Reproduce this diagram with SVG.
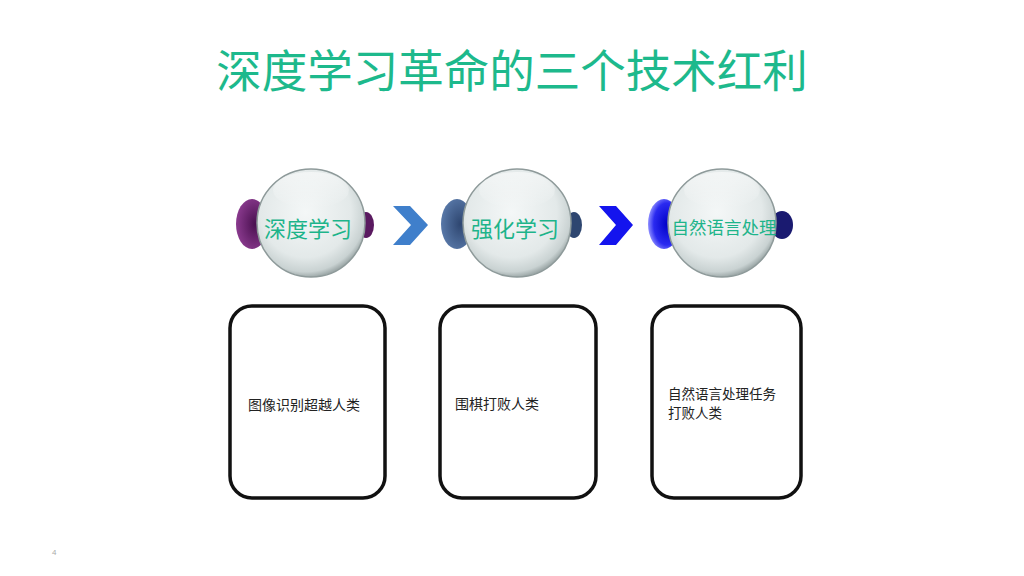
<svg xmlns="http://www.w3.org/2000/svg" width="1024" height="576" viewBox="0 0 1024 576">
<defs>
<style>
.title{font-family:"Noto Sans CJK SC","Noto Sans",sans-serif;font-size:45.5px;fill:#1DB98C;text-anchor:middle}
.ctext{font-family:"Noto Sans CJK SC",sans-serif;font-size:22px;fill:#1DB48A;text-anchor:middle}
.btext{font-family:"Noto Sans CJK SC",sans-serif;font-size:14px;fill:#222}
.box{fill:#fff;stroke:#111;stroke-width:3.5}
.glass{fill:url(#glass);stroke:#8E9A9A;stroke-width:1.5}
</style>
<radialGradient id="glass" cx="0.45" cy="0.4" r="0.6">
<stop offset="0" stop-color="#F4F7F7"/>
<stop offset="0.7" stop-color="#E3E9E9"/>
<stop offset="0.92" stop-color="#C9D2D2"/>
<stop offset="1" stop-color="#A0ABAB"/>
</radialGradient>
<linearGradient id="hl" x1="0" y1="0" x2="0" y2="1">
<stop offset="0" stop-color="#fff" stop-opacity="0.9"/>
<stop offset="1" stop-color="#fff" stop-opacity="0"/>
</linearGradient>
<radialGradient id="purple" cx="0.6" cy="0.5" r="0.6">
<stop offset="0" stop-color="#4A1050"/>
<stop offset="1" stop-color="#8A3A8E"/>
</radialGradient>
<radialGradient id="slate" cx="0.6" cy="0.5" r="0.6">
<stop offset="0" stop-color="#2E4670"/>
<stop offset="1" stop-color="#5878A8"/>
</radialGradient>
<radialGradient id="blue" cx="0.6" cy="0.5" r="0.6">
<stop offset="0" stop-color="#0000C8"/>
<stop offset="0.7" stop-color="#2A2AF0"/>
<stop offset="1" stop-color="#9090FF"/>
</radialGradient>
</defs>
<rect width="1024" height="576" fill="#fff"/>
<text class="title" x="512" y="88">深度学习革命的三个技术红利</text>

<g id="connectors">
<polygon points="393,206 410,206 428,225 410,245 393,245 411,225" fill="#3F7FCB"/>
<polygon points="599,206 616,206 633,225 616,245 599,245 616,225" fill="#1414EE"/>
</g>

<g id="node1">
<ellipse cx="252" cy="224" rx="16" ry="25" fill="url(#purple)"/>
<ellipse cx="366" cy="225" rx="8" ry="13" fill="#5A1A60"/>
<circle class="glass" cx="311" cy="223" r="54"/>
<ellipse cx="311" cy="190" rx="38" ry="18" fill="url(#hl)" opacity="0.6"/>
<text class="ctext" x="308" y="237">深度学习</text>
</g>

<g id="node2">
<ellipse cx="457" cy="224" rx="16" ry="25" fill="url(#slate)"/>
<ellipse cx="574" cy="225" rx="8" ry="13" fill="#2E4670"/>
<circle class="glass" cx="517" cy="223" r="54"/>
<ellipse cx="517" cy="190" rx="38" ry="18" fill="url(#hl)" opacity="0.6"/>
<text class="ctext" x="515" y="237">强化学习</text>
</g>

<g id="node3">
<ellipse cx="664" cy="224" rx="16" ry="25" fill="url(#blue)"/>
<ellipse cx="782" cy="225" rx="11" ry="14" fill="#1A1A70"/>
<circle class="glass" cx="722" cy="223" r="54"/>
<ellipse cx="722" cy="190" rx="38" ry="18" fill="url(#hl)" opacity="0.6"/>
<text class="ctext" x="724" y="234" style="font-size:17.5px">自然语言处理</text>
</g>

<g id="box1">
<rect class="box" x="230" y="306" width="155" height="192" rx="22"/>
<text class="btext" x="248" y="410">图像识别超越人类</text>
</g>
<g id="box2">
<rect class="box" x="440" y="306" width="156" height="192" rx="22"/>
<text class="btext" x="455" y="409">围棋打败人类</text>
</g>
<g id="box3">
<rect class="box" x="652" y="306" width="149" height="192" rx="22"/>
<text class="btext" x="668" y="399" style="font-size:13.5px">自然语言处理任务</text>
<text class="btext" x="668" y="418" style="font-size:13.5px">打败人类</text>
</g>

<text x="52" y="555" style="font-family:'Liberation Sans',sans-serif;font-size:8px;fill:#AAA">4</text>
</svg>
